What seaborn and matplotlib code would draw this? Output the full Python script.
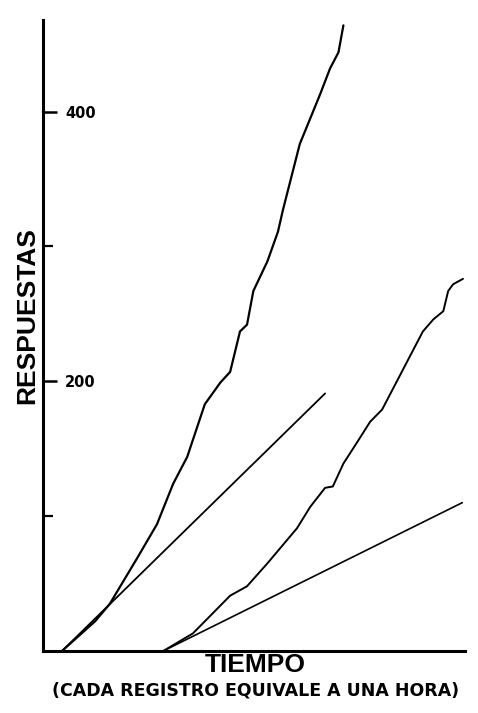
import pandas as pd
import matplotlib
matplotlib.use("Agg")
import matplotlib.pyplot as plt
import seaborn as sns

# registro 1 (curva acumulada y recta de referencia)
t1 = [2.7, 7.4, 9.5, 13.4, 16.2, 18.5, 20.5, 23.0, 25.2, 26.6, 28.0, 29.0, 29.9,
      31.9, 33.4, 34.1, 36.5, 39.4, 40.8, 42.0, 42.7]
r1 = [0, 22, 35, 69, 94, 124, 144, 183, 199, 207, 237, 242, 267,
      289, 311, 327, 376, 413, 432, 444, 464]
ref1_t = [2.7, 40.1]
ref1_r = [0, 191]

# registro 2
t2 = [17.1, 21.3, 26.6, 29.0, 31.9, 36.1, 38.0, 40.1, 41.2, 42.7, 44.8, 46.5,
      48.2, 50.3, 54.0, 55.5, 56.9, 57.6, 58.3, 59.7]
r2 = [0, 13, 41, 48, 65, 91, 107, 121, 122, 139, 156, 170,
      179, 200, 237, 246, 252, 267, 272, 276]
ref2_t = [17.1, 59.6]
ref2_r = [0, 110]

ticks_major = [200, 400]
ticks_minor = [100, 300]

sns.set_style("white")

fig = plt.figure(figsize=(4.78, 7.13), dpi=100)
ax = fig.add_axes([0.090, 0.087, 0.883, 0.885])

df1 = pd.DataFrame({"t": t1, "r": r1})
df2 = pd.DataFrame({"t": t2, "r": r2})
sns.lineplot(data=df1, x="t", y="r", ax=ax, color="black", linewidth=1.6)
sns.lineplot(data=df2, x="t", y="r", ax=ax, color="black", linewidth=1.4)
sns.lineplot(x=ref1_t, y=ref1_r, ax=ax, color="black", linewidth=1.3)
sns.lineplot(x=ref2_t, y=ref2_r, ax=ax, color="black", linewidth=1.2)

ax.set_xlim(0, 60)
ax.set_ylim(0, 468)
ax.set_xlabel("")
ax.set_ylabel("")
ax.set_xticks([])

sns.despine(ax=ax, top=True, right=True)
ax.spines["left"].set_linewidth(2.2)
ax.spines["bottom"].set_linewidth(2.2)
ax.spines["left"].set_color("black")
ax.spines["bottom"].set_color("black")

ax.set_yticks(ticks_major)
ax.set_yticklabels([str(v) for v in ticks_major])
ax.set_yticks(ticks_minor, minor=True)
ax.tick_params(axis="y", which="major", direction="in", length=10, width=1.8,
               pad=-16, labelsize=10.5, left=True, colors="black")
ax.tick_params(axis="y", which="minor", direction="in", length=7, width=1.6,
               left=True, colors="black")
for lab in ax.get_yticklabels():
    lab.set_horizontalalignment("left")
    lab.set_fontweight("bold")

fig.text(0.057, 0.558, "RESPUESTAS", rotation=90, ha="center", va="center",
         fontsize=19, fontweight="bold", color="black",
         family=["Liberation Sans", "DejaVu Sans"])
fig.text(0.535, 0.067, "TIEMPO", ha="center", va="center", fontsize=19,
         fontweight="bold", color="black", family=["Liberation Sans", "DejaVu Sans"])
fig.text(0.535, 0.032, "(CADA REGISTRO EQUIVALE A UNA HORA)", ha="center", va="center",
         fontsize=12.5, fontweight="bold", color="black", family=["DejaVu Sans"])

fig.savefig("out.png", dpi=100)
